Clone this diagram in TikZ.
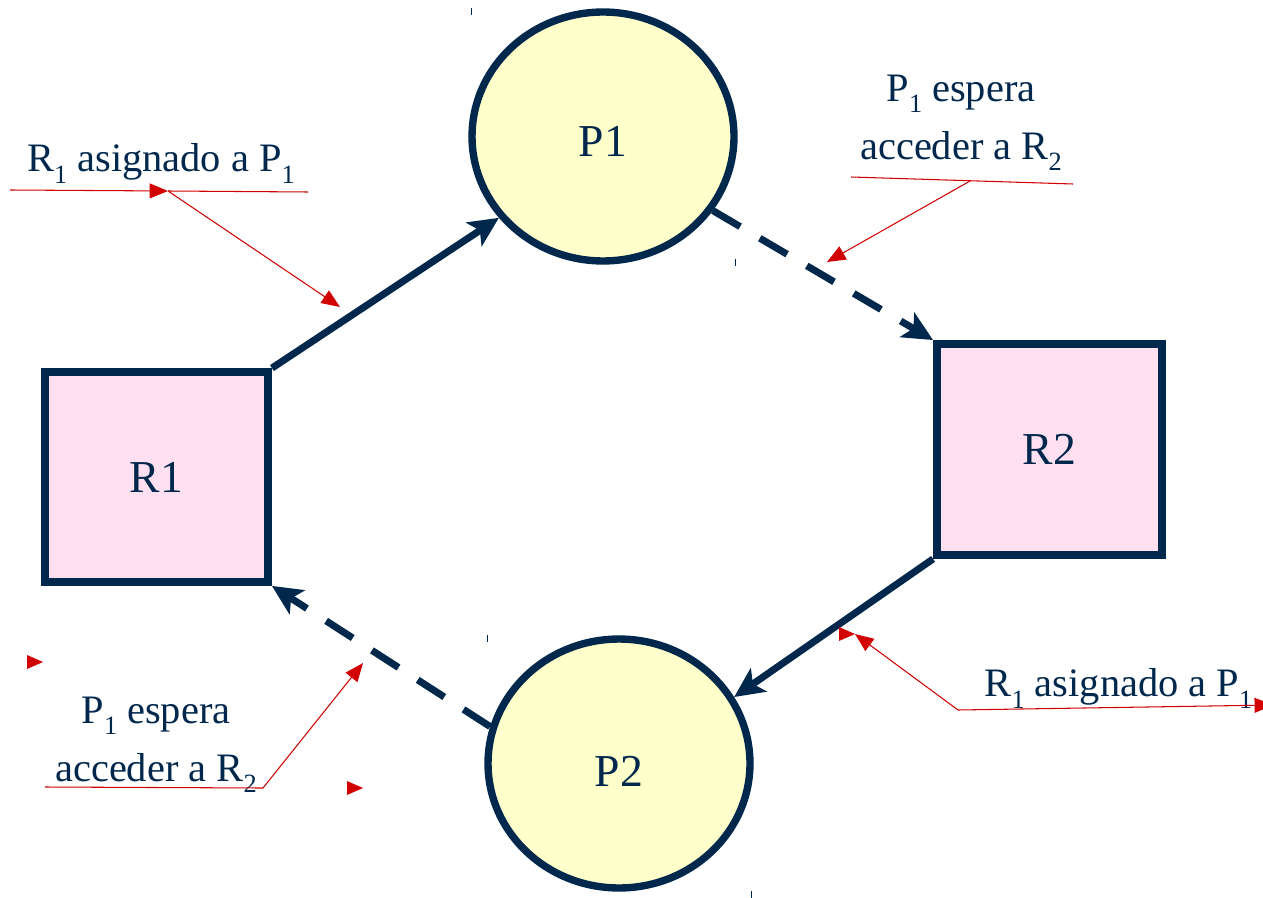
\documentclass[tikz,border=0pt]{standalone}
\usepackage{fontspec}
\setmainfont{Liberation Serif}
\newfontfamily\labelfont{Liberation Serif}
\usetikzlibrary{arrows.meta,shapes.geometric}
\definecolor{navy}{RGB}{0,40,77}
\definecolor{annred}{RGB}{210,0,0}
\definecolor{resfill}{RGB}{255,224,240}
\definecolor{procfill}{RGB}{255,255,204}
% lowered subscript digit in the running text font
\newcommand\lowsub[1]{\raisebox{-6.5pt}{\fontsize{15}{15}\selectfont #1}}
% label lowered inside its node without changing the node's box
\newcommand\lowered[2]{\raisebox{-#1}[\height][0pt]{#2}}

\begin{document}
\begin{tikzpicture}[x=0.02cm,y=-0.02cm,
  resource/.style={rectangle, draw=navy, line width=4.5pt, fill=resfill, inner sep=0pt,
    text=navy, font=\labelfont\fontsize{26}{30}\selectfont},
  process/.style={ellipse, draw=navy, line width=4.2pt, fill=procfill, inner sep=0pt,
    minimum width=5.24cm, minimum height=4.98cm, text=navy, font=\labelfont\fontsize{26}{30}\selectfont},
  held/.style={draw=navy, line width=4pt, -{Stealth[length=17pt,width=16pt,inset=4pt]}},
  wanted/.style={held, dash pattern=on 18pt off 13pt},
  note/.style={text=navy, font=\labelfont\fontsize{23}{33}\selectfont, align=center, inner sep=0pt},
  annline/.style={draw=annred, line width=0.6pt},
  annarrow/.style={annline, -{Triangle[length=10.5pt,width=8.5pt]}},
  tick/.style={draw=navy, line width=0.6pt}
]
\useasboundingbox (0,0) rectangle (1263,898);

% resources and processes
\node[resource, minimum width=4.46cm, minimum height=4.2cm] (R1) at (156.5,477) {R1};
\node[resource, minimum width=4.5cm, minimum height=4.22cm] (R2) at (1049.5,449.5) {R2};
\node[process] (P1) at (603,136.5) {\lowered{3pt}{P1}};
\node[process] (P2) at (619,763.5) {\lowered{4.5pt}{P2}};

% wait-for cycle
\draw[held]   (R1.north east) -- (P1.218);
\draw[wanted] (P1.-34.6) -- (R2.north west);
\draw[held]   (R2.south west) -- (P2.30);
\draw[wanted] (P2.164) -- (R1.south east);

% small corner marks of the process frames
\draw[tick] (471.7,8) -- (471.7,15);
\draw[tick] (735.5,259) -- (735.5,266);
\draw[tick] (487.3,635) -- (487.3,642);
\draw[tick] (751.7,891) -- (751.7,898);

% annotation: top left
\node[note, anchor=base] (n1) at (161,172) {R\lowsub{1} asignado a P\lowsub{1}};
\coordinate (n1a) at (10,190);
\coordinate (n1b) at (168,191);
\coordinate (n1c) at (308,192);
\coordinate (n1t) at (340,307);
\draw[annarrow] (n1a) -- (n1b);
\draw[annline] (n1b) -- (n1c);
\draw[annarrow] (n1b) -- (n1t);

% annotation: top right
\node[note] (n2) at (961,123) {P\lowsub{1} espera\\acceder a R\lowsub{2}};
\coordinate (n2a) at (851,177);
\coordinate (n2b) at (970,181);
\coordinate (n2c) at (1073,184);
\coordinate (n2t) at (827,262);
\draw[annline] (n2a) -- (n2c);
\draw[annarrow] (n2b) -- (n2t);

% annotation: bottom left
\node[note] (n3) at (156,744.7) {P\lowsub{1} espera\\acceder a R\lowsub{2}};
\coordinate (n3a) at (45,787);
\coordinate (n3b) at (263,788);
\coordinate (n3t) at (363,663);
\draw[annline] (n3a) -- (n3b);
\draw[annarrow] (n3b) -- (n3t);
\fill[annred] (43,662) -- ++(-16,-7) -- ++(0,14) -- cycle;
\fill[annred] (363,788) -- ++(-16,-7) -- ++(0,14) -- cycle;

% annotation: bottom right
\node[note, anchor=base] (n4) at (1118.5,696.7) {R\lowsub{1} asignado a P\lowsub{1}};
\coordinate (n4a) at (958,710);
\coordinate (n4b) at (1273,705);
\coordinate (n4t) at (855,634);
\draw[annarrow] (n4a) -- (n4b);
\draw[annarrow] (n4a) -- (n4t);
\fill[annred] (855,634) -- ++(-16,-7) -- ++(0,14) -- cycle;
\end{tikzpicture}
\end{document}
